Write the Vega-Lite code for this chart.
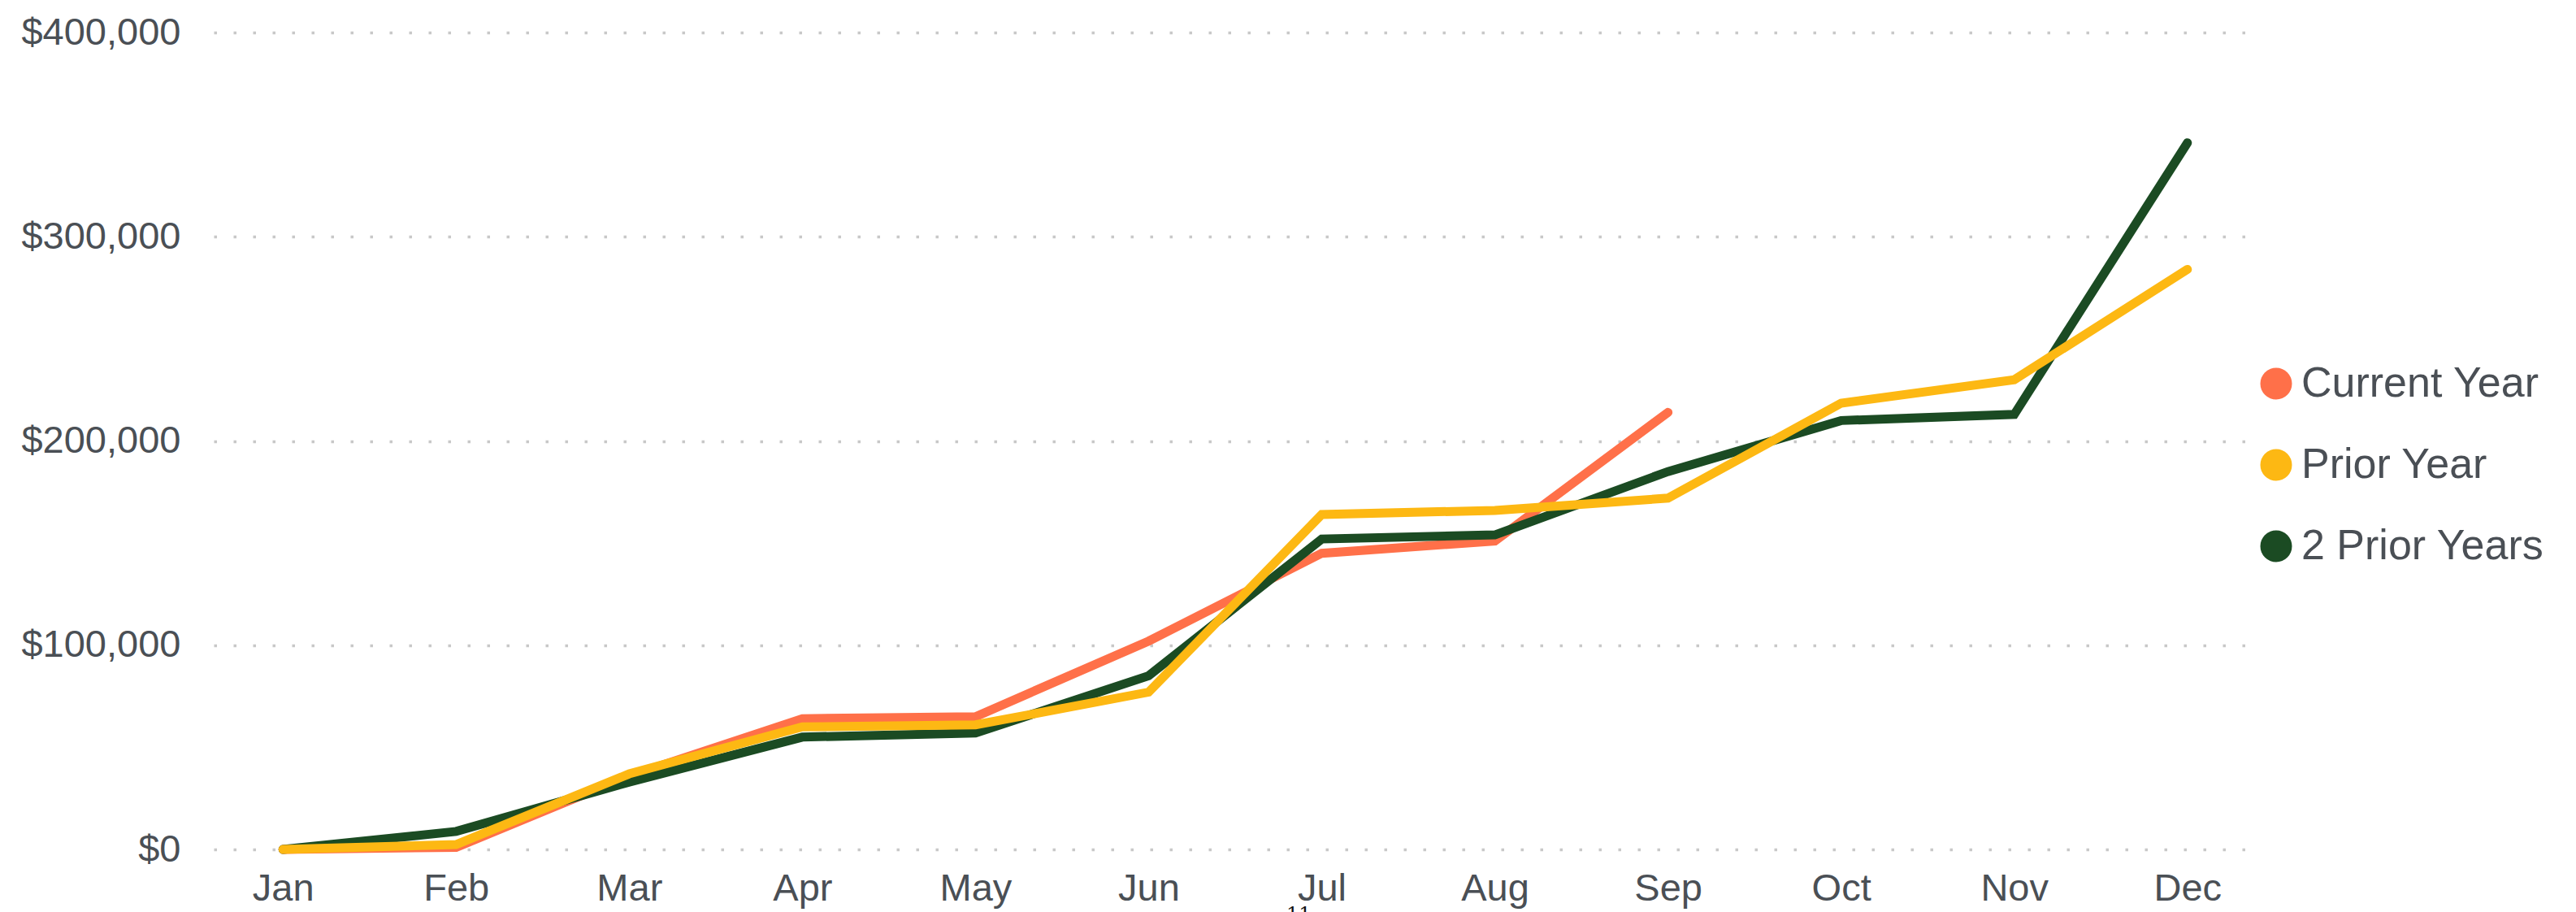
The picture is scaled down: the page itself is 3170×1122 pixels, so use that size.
{
  "$schema": "https://vega.github.io/schema/vega-lite/v6.json",
  "width": 2514,
  "height": 1005,
  "autosize": {"type": "none"},
  "padding": {"left": 263, "top": 40, "right": 393, "bottom": 77},
  "background": "white",
  "title": {"text": "11", "orient": "bottom", "anchor": "start", "frame": "group", "dx": 1320, "offset": -2, "baseline": "top", "font": "DejaVu Serif", "fontSize": 24, "fontWeight": "normal", "color": "#111111"},
  "data": {
    "values": [
      {"month": "Jan", "series": "Current Year", "value": 0},
      {"month": "Feb", "series": "Current Year", "value": 1000},
      {"month": "Mar", "series": "Current Year", "value": 36000},
      {"month": "Apr", "series": "Current Year", "value": 64000},
      {"month": "May", "series": "Current Year", "value": 65000},
      {"month": "Jun", "series": "Current Year", "value": 102000},
      {"month": "Jul", "series": "Current Year", "value": 145000},
      {"month": "Aug", "series": "Current Year", "value": 151000},
      {"month": "Sep", "series": "Current Year", "value": 214000},
      {"month": "Jan", "series": "2 Prior Years", "value": 0},
      {"month": "Feb", "series": "2 Prior Years", "value": 8800},
      {"month": "Mar", "series": "2 Prior Years", "value": 33000},
      {"month": "Apr", "series": "2 Prior Years", "value": 55000},
      {"month": "May", "series": "2 Prior Years", "value": 57000},
      {"month": "Jun", "series": "2 Prior Years", "value": 85000},
      {"month": "Jul", "series": "2 Prior Years", "value": 152000},
      {"month": "Aug", "series": "2 Prior Years", "value": 154000},
      {"month": "Sep", "series": "2 Prior Years", "value": 185000},
      {"month": "Oct", "series": "2 Prior Years", "value": 210000},
      {"month": "Nov", "series": "2 Prior Years", "value": 213000},
      {"month": "Dec", "series": "2 Prior Years", "value": 346000},
      {"month": "Jan", "series": "Prior Year", "value": 0},
      {"month": "Feb", "series": "Prior Year", "value": 2400},
      {"month": "Mar", "series": "Prior Year", "value": 37000},
      {"month": "Apr", "series": "Prior Year", "value": 60000},
      {"month": "May", "series": "Prior Year", "value": 61000},
      {"month": "Jun", "series": "Prior Year", "value": 77000},
      {"month": "Jul", "series": "Prior Year", "value": 164000},
      {"month": "Aug", "series": "Prior Year", "value": 166000},
      {"month": "Sep", "series": "Prior Year", "value": 172000},
      {"month": "Oct", "series": "Prior Year", "value": 218500},
      {"month": "Nov", "series": "Prior Year", "value": 230000},
      {"month": "Dec", "series": "Prior Year", "value": 284000}
    ]
  },
  "mark": {"type": "line", "strokeWidth": 11, "strokeCap": "round", "strokeJoin": "miter"},
  "encoding": {
    "x": {
      "field": "month",
      "type": "ordinal",
      "sort": ["Jan", "Feb", "Mar", "Apr", "May", "Jun", "Jul", "Aug", "Sep", "Oct", "Nov", "Dec"],
      "scale": {"type": "point", "padding": 0.4},
      "axis": {"title": null, "labelAngle": 0, "domain": false, "ticks": false, "grid": false, "labelPadding": 25, "labelFontSize": 47, "labelFont": "Liberation Sans", "labelColor": "#4a4f55", "labelLimit": 400}
    },
    "y": {
      "field": "value",
      "type": "quantitative",
      "scale": {"domain": [0, 400000], "nice": false, "zero": true},
      "axis": {"title": null, "values": [0, 100000, 200000, 300000, 400000], "format": "$,.0f", "domain": false, "ticks": false, "grid": true, "gridColor": "#c8c8c8", "gridWidth": 3.5, "gridDash": [3.5, 20.5], "labelPadding": 41, "labelFontSize": 47, "labelFont": "Liberation Sans", "labelColor": "#4a4f55", "labelLimit": 400}
    },
    "color": {
      "field": "series",
      "type": "nominal",
      "scale": {"domain": ["Current Year", "Prior Year", "2 Prior Years"], "range": ["#FF7049", "#FDB813", "#1B4B23"]},
      "legend": {
        "title": null, "orient": "none", "legendX": 2512, "legendY": 406, "padding": 0,
        "symbolType": "circle", "symbolSize": 1521, "symbolStrokeWidth": 0, "symbolOpacity": 1,
        "labelFontSize": 52, "labelFont": "Liberation Sans", "labelColor": "#4a4f55", "labelOffset": 5, "rowPadding": 48, "labelLimit": 600,
        "encode": {"symbols": {"update": {"fill": {"scale": "color", "field": "value"}, "fillOpacity": {"value": 1}, "strokeWidth": {"value": 0}}}}
      }
    }
  },
  "config": {"view": {"stroke": null}}
}
